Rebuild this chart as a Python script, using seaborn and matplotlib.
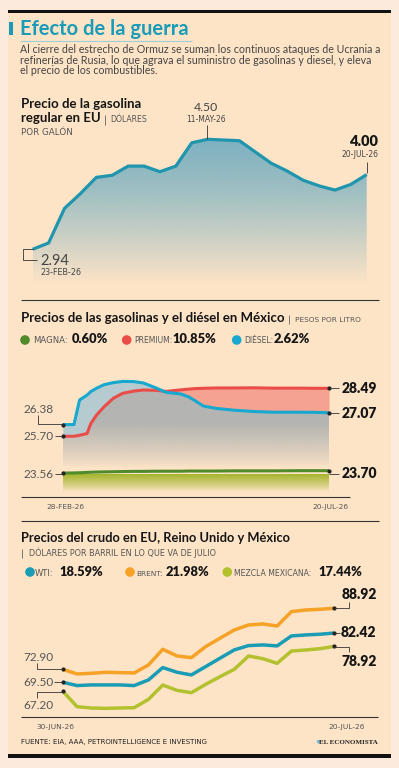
import numpy as np
import matplotlib
matplotlib.use("Agg")
import matplotlib.pyplot as plt
import seaborn as sns
from matplotlib.colors import to_rgb
from matplotlib.patches import Rectangle, Circle

# ---------------- data ----------------
# US regular gasoline, dollars per gallon, weekly 23-FEB-26 .. 20-JUL-26
gas_week = list(range(22))
gas_price = [2.94, 3.03, 3.52, 3.73, 3.96, 3.99, 4.12, 4.12, 4.04, 4.12, 4.45,
             4.50, 4.49, 4.48, 4.32, 4.16, 4.05, 3.92, 3.84, 3.78, 3.86, 4.00]

# Mexico fuel prices, pesos per litre, days since 28-FEB-26
mx_day = [0, 6, 9, 13, 15, 18, 22, 27, 32, 38, 43, 50, 55, 63, 67, 70, 75, 82,
          91, 102, 112, 126, 135, 142]
diesel = [26.38, 26.38, 27.81, 28.10, 28.30, 28.49, 28.70, 28.82, 28.89, 28.88,
          28.80, 28.50, 28.26, 28.16, 28.00, 27.81, 27.46, 27.32, 27.22, 27.14,
          27.10, 27.10, 27.09, 27.07]
premium = [25.70, 25.70, 25.76, 25.86, 26.44, 26.93, 27.41, 27.91, 28.20, 28.33,
           28.39, 28.37, 28.31, 28.40, 28.44, 28.47, 28.49, 28.51, 28.51, 28.52,
           28.50, 28.50, 28.49, 28.49]
magna = [23.56, 23.57, 23.58, 23.60, 23.61, 23.62, 23.63, 23.64, 23.65, 23.66,
         23.66, 23.67, 23.67, 23.67, 23.68, 23.68, 23.68, 23.68, 23.69, 23.69,
         23.69, 23.70, 23.70, 23.70]

# crude oil, dollars per barrel, 30-JUN-26 .. 20-JUL-26
crude_day = list(range(20))
brent = [72.90, 71.68, 71.85, 72.11, 72.03, 71.94, 74.04, 78.15, 76.40, 75.96,
         78.85, 81.04, 83.22, 84.54, 84.80, 84.27, 88.04, 88.47, 88.65, 88.92]
wti = [69.50, 68.63, 68.80, 68.80, 68.80, 68.63, 70.11, 73.35, 72.12, 71.42,
       73.61, 75.80, 77.99, 79.12, 79.30, 79.04, 81.66, 81.92, 82.10, 82.42]
mezcla = [67.20, 63.09, 62.74, 62.65, 62.74, 62.83, 65.01, 68.77, 67.37, 66.76,
          68.95, 70.96, 72.89, 76.39, 75.69, 74.46, 77.70, 77.96, 78.31, 78.92]

# ---------------- style ----------------
sns.set_style("white")
plt.rcParams['font.family'] = ['Lato', 'DejaVu Sans']

W, H = 399, 768
BG_OUT = "#fcebdd"
BG_IN = "#fde4c7"
TEAL = "#1a9bb8"
GAS = "#1f96ad"
DIESEL = "#17a8cf"
PREMIUM = "#ea4d48"
MAGNA = "#4f8a2b"
BRENT = "#f5a226"
WTI = "#1a9cb5"
MEZCLA = "#b3c12e"
TXT = "#444444"
GREY = "#555555"
INK = "#151515"
SMALL = ['DejaVu Sans']

fig = plt.figure(figsize=(W / 100, H / 100), dpi=100, facecolor=BG_OUT)

bg = fig.add_axes([0, 0, 1, 1], zorder=-5)
bg.set_xlim(0, W); bg.set_ylim(H, 0); bg.axis('off')
bg.add_patch(Rectangle((8, 12), 383, 744, color=BG_IN, lw=0))


def chart_axes(L, R, T, B, xlim, ylim):
    ax = fig.add_axes([L / W, 1 - B / H, (R - L) / W, (B - T) / H])
    ax.set_xlim(xlim)
    ax.set_ylim(ylim)
    ax.axis('off')
    ax.patch.set_alpha(0)
    return ax


def grad_fill(ax, x, top, bottom, color, v_top, v_bot, alphas):
    poly = ax.fill_between(x, top, bottom, color='none', lw=0)
    n = len(alphas)
    img = np.zeros((n, 1, 4))
    img[:, 0, :3] = to_rgb(color)
    img[:, 0, 3] = alphas
    im = ax.imshow(img, extent=(x[0], x[-1], v_bot, v_top), aspect='auto',
                   origin='upper', zorder=1, interpolation='bilinear')
    im.set_clip_path(poly.get_paths()[0], transform=ax.transData)


def draw_line(ax, x, y, color, lw):
    sns.lineplot(x=x, y=y, ax=ax, color=color, linewidth=lw, zorder=5,
                 solid_joinstyle='round', solid_capstyle='butt')
    ax.lines[-1].set_clip_on(False)


# ---------- chart 1: US gasoline ----------
def gas_v(ypx):
    return 2.94 + (249.3 - ypx) * (1.56 / 110.0)

ax1 = chart_axes(32.7, 366.7, 130, 285, (0, 21), (gas_v(285), gas_v(130)))
t = np.linspace(0, 1, 200)
grad_fill(ax1, gas_week, gas_price, gas_v(284), "#7fb2c1", gas_v(139), gas_v(284),
          np.clip(1 - t ** 1.3, 0, 1))
draw_line(ax1, gas_week, gas_price, GAS, 2.3)
ax1.set_xlim(0, 21); ax1.set_ylim(gas_v(285), gas_v(130))

# ---------- chart 2: Mexico ----------
def mx_v(ypx):
    return 28.49 - (ypx - 388.3) / 17.2

ax2 = chart_axes(62.7, 329, 370, 492, (0, 142), (mx_v(492), mx_v(370)))
d = np.array(diesel); p = np.array(premium)
low = np.minimum(d, p)
ys = np.linspace(378, 468, 200)
grey_alpha = np.clip((468 - ys) / 45.0, 0, 1) ** 0.8
grad_fill(ax2, mx_day, low, mx_v(468), "#b4b4b2", mx_v(378), mx_v(468), grey_alpha)
ax2.fill_between(mx_day, p, d, where=p >= d, interpolate=True, color="#f5a290", lw=0, zorder=2)
ax2.fill_between(mx_day, d, p, where=d > p, interpolate=True, color="#b5cbd0", lw=0, zorder=2)
ys = np.linspace(474, 492, 100)
grad_fill(ax2, mx_day, magna, mx_v(492), "#a4b52a", mx_v(474), mx_v(492),
          np.clip((492 - ys) / 18.0, 0, 1) ** 0.9)
draw_line(ax2, mx_day, premium, PREMIUM, 2.2)
draw_line(ax2, mx_day, diesel, DIESEL, 2.2)
draw_line(ax2, mx_day, magna, MAGNA, 2.2)
ax2.set_xlim(0, 142); ax2.set_ylim(mx_v(492), mx_v(370))
for ser in (premium, diesel, magna):
    ax2.scatter([mx_day[0], mx_day[-1]], [ser[0], ser[-1]], s=4, color="#222222",
                zorder=6, clip_on=False)

# ---------- chart 3: crude ----------
def cr_v(ypx):
    return 72.90 - (ypx - 669.3) / 3.81

ax3 = chart_axes(62.7, 334.3, 595, 712, (0, 19), (cr_v(712), cr_v(595)))
draw_line(ax3, crude_day, brent, BRENT, 2.5)
draw_line(ax3, crude_day, wti, WTI, 2.5)
draw_line(ax3, crude_day, mezcla, MEZCLA, 2.5)
ax3.set_xlim(0, 19); ax3.set_ylim(cr_v(712), cr_v(595))
for ser in (brent, wti, mezcla):
    ax3.scatter([crude_day[0], crude_day[-1]], [ser[0], ser[-1]], s=4, color="#222222",
                zorder=6, clip_on=False)

# ---------------- overlay: texts and rules ----------------
ov = fig.add_axes([0, 0, 1, 1])
ov.set_xlim(0, W); ov.set_ylim(H, 0); ov.axis('off'); ov.patch.set_alpha(0)


def txt(x, y, s, size, weight='normal', color=TXT, ha='left', family=None):
    kw = {}
    if family:
        kw['family'] = family
    ov.text(x, y, s, fontsize=size, fontweight=weight, color=color, ha=ha,
            va='baseline', **kw)


def seg(xs, ys, color="#333333", lw=0.6):
    ov.plot(xs, ys, color=color, lw=lw, solid_capstyle='butt')


# frame bars
ov.add_patch(Rectangle((8, 10), 383, 3.3, color="#111111", lw=0))
ov.add_patch(Rectangle((8, 754.3), 383, 3.3, color="#111111", lw=0))

# header
ov.add_patch(Rectangle((9.3, 22), 4, 13, color=TEAL, lw=0))
txt(20, 35, "Efecto de la guerra", 14.5, 'bold', TEAL)
seg([20, 192], [41, 41], "#9ccfd9", 0.8)
txt(20, 52.7, "Al cierre del estrecho de Ormuz se suman los continuos ataques de Ucrania a", 7.7)
txt(20, 63.7, "refinerías de Rusia, lo que agrava el suministro de gasolinas y diesel, y eleva", 7.7)
txt(20, 74.3, "el precio de los combustibles.", 7.7)

# section 1
txt(21, 108.3, "Precio de la gasolina", 9.5, 'bold', INK)
txt(21, 122.3, "regular en EU", 9.5, 'bold', INK)
seg([104.5, 104.5], [114.5, 124.5], "#777777", 0.7)
txt(110, 122.3, "DÓLARES", 5.6, color=GREY, family=SMALL)
txt(21, 135, "POR GALÓN", 6.3, color=GREY, family=SMALL)
txt(206, 110.7, "4.50", 8.8, color=TXT, ha='center')
txt(206, 122.3, "11-MAY-26", 5.5, color=TXT, ha='center', family=SMALL)
seg([207, 207], [125, 139])
txt(378, 145.7, "4.00", 10.5, 'heavy', INK, ha='right')
txt(378, 156.7, "20-JUL-26", 5.5, color=TXT, ha='right', family=SMALL)
seg([366.7, 366.7], [162, 173])
seg([32.7, 23.3, 23.3, 37.3], [249.3, 249.3, 260, 260])
txt(40, 265, "2.94", 10.5, color=TXT)
txt(40, 275, "23-FEB-26", 5.8, color=TXT, family=SMALL)
seg([21, 379], [300, 300], "#333333", 0.8)

# section 2
txt(21, 322.3, "Precios de las gasolinas y el diésel en México", 9.5, 'bold', INK)
seg([288.7, 288.7], [315, 323.5], "#777777", 0.7)
txt(295, 322.3, "PESOS POR LITRO", 5.3, color=GREY, family=SMALL)
leg2 = [(25, MAGNA, "MAGNA:", 32.7, 6.1, "0.60%", 71.7),
        (126.7, PREMIUM, "PREMIUM:", 134, 5.5, "10.85%", 172.3),
        (236.7, DIESEL, "DIÉSEL:", 244.3, 5.5, "2.62%", 273.3)]
for cx, col, lab, lx, fs, val, vx in leg2:
    ov.add_patch(Circle((cx, 340), 4.8, color=col, lw=0))
    txt(lx, 343.3, lab, fs, color=GREY, family=SMALL)
    txt(vx, 343.3, val, 9.3, 'heavy', INK)

txt(23, 413.3, "26.38", 8.5, color=GREY)
seg([37.7, 37.7, 62.7], [415, 424.3, 424.3])
txt(23, 440, "25.70", 8.5, color=GREY)
seg([55, 62.7], [436, 436])
txt(23, 478.3, "23.56", 8.5, color=GREY)
seg([55, 62.7], [474, 474])
for yv, lab, yb in [(388.3, "28.49", 392.7), (413.3, "27.07", 417.7), (473.7, "23.70", 478.2)]:
    seg([329, 339], [yv, yv])
    txt(341.7, yb, lab, 10, 'heavy', INK)
seg([21, 350], [496.7, 496.7], "#333333", 0.8)
txt(65, 509.3, "28-FEB-26", 5.3, color=GREY, ha='center', family=SMALL)
txt(330, 509.3, "20-JUL-26", 5.3, color=GREY, ha='center', family=SMALL)
seg([21, 379], [520.5, 520.5], "#333333", 0.8)

# section 3
txt(21, 542.3, "Precios del crudo en EU, Reino Unido y México", 9.3, 'bold', INK)
seg([22, 22], [549.3, 557.7], "#777777", 0.7)
txt(28.7, 556, "DÓLARES POR BARRIL EN LO QUE VA DE JULIO", 5.9, color=GREY, family=SMALL)
leg3 = [(30, WTI, "WTI:", 35, 6.0, "18.59%", 59.3),
        (130, BRENT, "BRENT:", 136, 5.3, "21.98%", 165.7),
        (227.3, MEZCLA, "MEZCLA MEXICANA:", 234.3, 5.6, "17.44%", 318.3)]
for cx, col, lab, lx, fs, val, vx in leg3:
    ov.add_patch(Circle((cx, 572), 4.8, color=col, lw=0))
    txt(lx, 575.7, lab, fs, color=GREY, family=SMALL)
    txt(vx, 575.7, val, 9.3, 'heavy', INK)

txt(23, 660.7, "72.90", 8.5, color=GREY)
seg([36.7, 36.7, 62.7], [662.7, 669.3, 669.3])
txt(23, 685.7, "69.50", 8.5, color=GREY)
seg([54, 62.7], [682.3, 682.3])
txt(23, 709, "67.20", 8.5, color=GREY)
seg([62.7, 36.7, 36.7], [691.7, 691.7, 698.3])

seg([334.3, 349.3, 349.3], [607.7, 607.7, 601.7])
txt(341.7, 599.3, "88.92", 10, 'heavy', INK)
seg([334.3, 340], [633.3, 633.3])
txt(341, 637.2, "82.42", 10, 'heavy', INK)
seg([334.3, 349.3, 349.3], [647.3, 647.3, 652.3])
txt(341.7, 666.3, "78.92", 10, 'heavy', INK)

seg([21, 378], [716.7, 716.7], "#333333", 0.8)
txt(55, 729.3, "30-JUN-26", 5.4, color=GREY, ha='center', family=SMALL)
txt(347, 729.3, "20-JUL-26", 5.4, color=GREY, ha='center', family=SMALL)

# footer
txt(21, 744, "FUENTE: EIA, AAA, PETROINTELLIGENCE E INVESTING", 5.0, color="#222222", family=SMALL)
ov.add_patch(Circle((318.5, 741.7), 1.8, color="#7ab8d0", lw=0))
txt(378, 744, "EL ECONOMISTA", 5, 'bold', "#222222", ha='right',
    family=['Liberation Serif', 'DejaVu Serif'])

fig.savefig("out.png", dpi=100, facecolor=BG_OUT)
